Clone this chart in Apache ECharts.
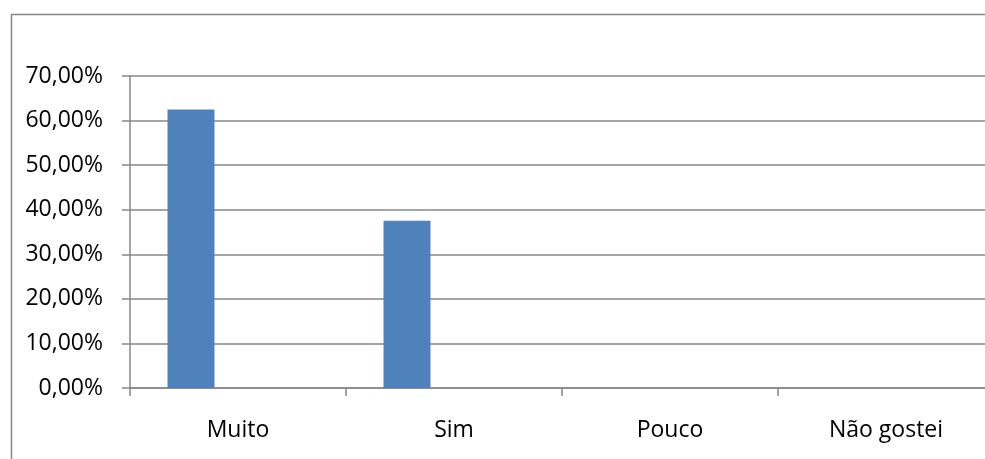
<!DOCTYPE html>
<html>
<head>
<meta charset="utf-8">
<script src="https://cdn.jsdelivr.net/npm/echarts@6/dist/echarts.min.js"></script>
<style>
  html, body { margin: 0; padding: 0; background: #ffffff; }
  #chart { width: 985px; height: 459px; }
</style>
</head>
<body>
<div id="chart"></div>
<script>
// Survey answers and their shares (fractions of respondents)
const categories = ['Muito', 'Sim', 'Pouco', 'Não gostei'];
const shares = [0.625, 0.375, 0, 0];
// Two further series of the clustered layout carry no values
const emptySeriesA = [null, null, null, null];
const emptySeriesB = [null, null, null, null];
const yTicks = [0, 0.1, 0.2, 0.3, 0.4, 0.5, 0.6, 0.7];

const AXIS_GRAY = '#878787';
const FONT = '"Open Sans", "Noto Sans", sans-serif';

function pct(v) {
  return (v * 100).toFixed(2).replace('.', ',') + '%';
}

const chart = echarts.init(document.getElementById('chart'), null, { renderer: 'canvas' });

chart.setOption({
  animation: false,
  backgroundColor: '#ffffff',
  graphic: [{
    type: 'rect',
    left: 9,
    top: 12,
    shape: { width: 1100, height: 600 },
    style: { fill: 'none', stroke: AXIS_GRAY, lineWidth: 1.5 },
    silent: true
  }],
  grid: {
    left: 130, top: 76, width: 864, height: 312,
    containLabel: false,
    outerBoundsMode: 'none'
  },
  xAxis: {
    type: 'category',
    data: categories,
    boundaryGap: true,
    axisLine: { show: true, lineStyle: { color: AXIS_GRAY, width: 1.5 } },
    axisTick: { show: true, alignWithLabel: false, length: 8, lineStyle: { color: AXIS_GRAY, width: 1.5 } },
    axisLabel: { color: '#000000', fontFamily: FONT, fontSize: 23, margin: 31, interval: 0 },
    splitLine: { show: false }
  },
  yAxis: {
    type: 'value',
    min: yTicks[0],
    max: yTicks[yTicks.length - 1],
    interval: yTicks[1] - yTicks[0],
    axisLine: { show: true, lineStyle: { color: AXIS_GRAY, width: 1.5 } },
    axisTick: { show: true, inside: false, length: 8, lineStyle: { color: AXIS_GRAY, width: 1.5 } },
    axisLabel: { color: '#000000', fontFamily: FONT, fontSize: 23, margin: 27, formatter: pct },
    splitLine: { show: true, lineStyle: { color: AXIS_GRAY, width: 1.5 } }
  },
  series: [
    { name: 'Série 1', type: 'bar', data: shares, barWidth: 47, barGap: '0%',
      itemStyle: { color: '#4F81BD' } },
    { name: 'Série 2', type: 'bar', data: emptySeriesA, barWidth: 47, barGap: '0%',
      itemStyle: { color: '#C0504D' } },
    { name: 'Série 3', type: 'bar', data: emptySeriesB, barWidth: 47, barGap: '0%',
      itemStyle: { color: '#9BBB59' } }
  ]
});
</script>
</body>
</html>
